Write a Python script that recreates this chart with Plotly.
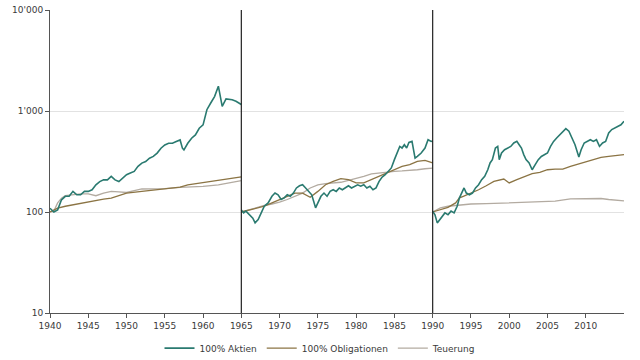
import plotly.graph_objects as go

# ---- Data (year, index value; each period rebased to 100) ----
# Period 1940-1965
p1_aktien_x = [1940.0, 1940.5, 1941.0, 1941.5, 1942.0, 1942.5, 1943.0, 1943.5, 1944.0, 1944.5,
               1945.0, 1945.5, 1946.0, 1946.5, 1947.0, 1947.5, 1948.0, 1948.5, 1949.0, 1949.5,
               1950.0, 1950.5, 1951.0, 1951.5, 1952.0, 1952.5, 1953.0, 1953.5, 1954.0, 1954.5,
               1955.0, 1955.5, 1956.0, 1956.5, 1957.0, 1957.3, 1957.5, 1958.0, 1958.5, 1959.0,
               1959.5, 1960.0, 1960.5, 1961.0, 1961.5, 1962.0, 1962.5, 1963.0, 1963.8, 1964.3, 1965.0]
p1_aktien_y = [109, 100, 105, 132, 143, 143, 160, 148, 148, 160,
               160, 166, 186, 200, 208, 208, 225, 208, 200, 216,
               234, 243, 252, 283, 305, 316, 341, 355, 383, 428,
               461, 479, 479, 498, 517, 428, 412, 479, 537, 580,
               675, 728, 1030, 1200, 1390, 1760, 1110, 1315, 1290, 1250, 1160]
p1_oblig_x = [1940, 1941, 1942, 1943, 1945, 1947, 1948, 1949.5, 1950, 1952, 1955, 1957, 1958, 1960, 1962, 1965]
p1_oblig_y = [100, 109, 114, 118, 127, 134, 137, 148, 154, 160, 169, 176, 186, 196, 208, 223]
p1_teu_x = [1940, 1940.5, 1941, 1941.5, 1942, 1943, 1944, 1945, 1946, 1947, 1948, 1949, 1950,
            1951, 1952, 1955, 1957, 1960, 1962, 1965]
p1_teu_y = [100, 102, 123, 137, 145, 148, 151, 151, 145, 154, 160, 158, 156,
            163, 169, 170, 175, 179, 186, 204]

# Period 1965-1990
p2_aktien_x = [1965.0, 1965.3, 1965.6, 1966.0, 1966.5, 1966.8, 1967.2, 1967.6, 1968.0, 1968.5,
               1969.0, 1969.4, 1969.8, 1970.2, 1970.6, 1971.0, 1971.4, 1971.8, 1972.2, 1972.6,
               1973.0, 1973.4, 1973.8, 1974.2, 1974.7, 1975.0, 1975.4, 1975.8, 1976.2, 1976.6,
               1977.0, 1977.4, 1977.8, 1978.2, 1978.6, 1979.0, 1979.4, 1979.8, 1980.2, 1980.6,
               1981.0, 1981.4, 1981.8, 1982.2, 1982.6, 1983.0, 1983.4, 1983.8, 1984.2, 1984.6,
               1985.0, 1985.4, 1985.7, 1986.0, 1986.3, 1986.6, 1986.9, 1987.3, 1987.7, 1988.0,
               1988.5, 1989.0, 1989.4, 1989.8, 1990.0]
p2_aktien_y = [105, 98, 102, 94, 87, 78, 84, 98, 114, 123,
               143, 154, 148, 133, 138, 148, 143, 154, 173, 182,
               186, 173, 160, 148, 110, 123, 143, 154, 143, 160,
               166, 160, 173, 166, 173, 182, 173, 180, 186, 180,
               186, 173, 180, 166, 173, 201, 222, 234, 253, 273,
               330, 384, 446, 430, 464, 430, 489, 500, 342, 355,
               384, 430, 520, 500, 505]
p2_oblig_x = [1965, 1966, 1967, 1968, 1969, 1970, 1971, 1972, 1973, 1974, 1975, 1976, 1977, 1978,
              1979, 1980, 1981, 1982, 1983, 1984, 1985, 1986, 1987, 1988, 1989, 1989.5, 1990]
p2_oblig_y = [100, 105, 110, 114, 123, 133, 143, 154, 154, 140, 160, 186, 201, 214,
              209, 194, 194, 209, 229, 243, 262, 283, 294, 317, 325, 317, 306]
p2_teu_x = [1965, 1966, 1967, 1968, 1969, 1970, 1971, 1972, 1973, 1974, 1975, 1976, 1977, 1978,
            1979, 1980, 1981, 1982, 1983, 1984, 1985, 1986, 1987, 1988, 1989, 1990]
p2_teu_y = [100, 105, 111, 116, 120, 125, 133, 143, 154, 173, 186, 191, 194, 197,
            206, 214, 225, 238, 243, 249, 253, 255, 257, 262, 268, 272]

# Period 1990-2015
p3_aktien_x = [1990.0, 1990.3, 1990.6, 1990.9, 1991.2, 1991.6, 1992.0, 1992.4, 1992.8, 1993.2,
               1993.5, 1993.8, 1994.1, 1994.4, 1994.8, 1995.2, 1995.6, 1996.0, 1996.4, 1996.8,
               1997.2, 1997.5, 1997.8, 1998.2, 1998.5, 1998.7, 1999.0, 1999.4, 1999.8, 2000.2,
               2000.6, 2001.0, 2001.3, 2001.6, 2001.9, 2002.2, 2002.6, 2003.0, 2003.4, 2003.8,
               2004.2, 2004.6, 2005.0, 2005.4, 2005.8, 2006.2, 2006.6, 2007.0, 2007.4, 2007.8,
               2008.2, 2008.6, 2009.1, 2009.4, 2009.8, 2010.2, 2010.6, 2011.0, 2011.4, 2011.8,
               2012.2, 2012.6, 2013.0, 2013.4, 2013.8, 2014.2, 2014.6, 2015.0]
p3_aktien_y = [102, 94, 78, 84, 91, 98, 94, 102, 98, 114,
               138, 154, 173, 154, 148, 154, 173, 186, 209, 226,
               262, 306, 330, 430, 446, 330, 384, 414, 430, 446,
               482, 500, 464, 430, 370, 330, 306, 262, 294, 330,
               355, 370, 384, 446, 500, 540, 583, 630, 670, 630,
               540, 464, 350, 414, 482, 500, 520, 500, 520, 446,
               482, 500, 606, 655, 677, 704, 731, 790]
p3_oblig_x = [1990, 1991, 1992, 1993, 1993.5, 1994, 1994.5, 1995, 1996, 1997, 1998, 1999.3, 2000,
              2001, 2002, 2003, 2004, 2005, 2006, 2007, 2008, 2009, 2010, 2011, 2012, 2013, 2014, 2015]
p3_oblig_y = [100, 105, 111, 123, 138, 143, 148, 154, 166, 182, 201, 212, 194,
              209, 226, 240, 247, 262, 266, 266, 283, 298, 317, 330, 347, 355, 361, 370]
p3_teu_x = [1990, 1991, 1992, 1993, 1994, 1995, 1997, 2000, 2003, 2006, 2008, 2009, 2010, 2012, 2013, 2015]
p3_teu_y = [100, 110, 114, 116, 117, 120, 121, 123, 125, 128, 135, 135, 136, 136, 133, 129]

y_tickvals = [10, 100, 1000, 10000]
y_ticktext = ["10", "100", "1'000", "10'000"]
x_tickvals = list(range(1940, 2015, 5))
period_breaks = [1965, 1990]

series_names = ["100% Aktien", "100% Obligationen", "Teuerung"]
series_colors = ["#2a7a70", "#8b7444", "#b3aba1"]


def join(*parts):
    xs, ys = [], []
    for i, (px, py) in enumerate(parts):
        if i:
            xs.append(None)
            ys.append(None)
        xs += list(px)
        ys += list(py)
    return xs, ys


series = [
    join((p1_aktien_x, p1_aktien_y), (p2_aktien_x, p2_aktien_y), (p3_aktien_x, p3_aktien_y)),
    join((p1_oblig_x, p1_oblig_y), (p2_oblig_x, p2_oblig_y), (p3_oblig_x, p3_oblig_y)),
    join((p1_teu_x, p1_teu_y), (p2_teu_x, p2_teu_y), (p3_teu_x, p3_teu_y)),
]

fig = go.Figure()
# draw in reverse so Aktien sits on top
for (xs, ys), name, col in reversed(list(zip(series, series_names, series_colors))):
    fig.add_trace(go.Scatter(x=xs, y=ys, mode="lines", name=name,
                             line=dict(color=col, width=1.6 if name == "100% Aktien" else 1.3),
                             connectgaps=False))

for b in period_breaks:
    fig.add_shape(type="line", xref="x", yref="paper", x0=b, x1=b, y0=0, y1=1,
                  line=dict(color="#222222", width=1.2))

font_family = "DejaVu Sans, Verdana, sans-serif"
fig.update_layout(
    width=640, height=360,
    margin=dict(l=50, r=16, t=10, b=47, autoexpand=False),
    paper_bgcolor="white", plot_bgcolor="white",
    font=dict(family=font_family, size=9, color="#3a3a3a"),
    showlegend=True,
    legend=dict(orientation="h", xref="container", yref="container",
                x=0.5, xanchor="center", y=0.033, yanchor="middle",
                traceorder="reversed", font=dict(size=9), itemwidth=30),
    xaxis=dict(range=[1940, 2015], tickvals=x_tickvals, ticktext=[str(v) for v in x_tickvals],
               showgrid=False, showline=True, linecolor="#555555", linewidth=1, automargin=False,
               ticks="outside", ticklen=4, tickcolor="#555555", zeroline=False),
    yaxis=dict(type="log", range=[1, 4], tickvals=y_tickvals, ticktext=y_ticktext,
               showgrid=True, gridcolor="#e2e2e2", gridwidth=1, automargin=False,
               showline=True, linecolor="#555555", linewidth=1,
               ticks="outside", ticklen=4, tickcolor="#555555", zeroline=False),
)

fig.write_html("out.html", config={"displayModeBar": False},
               post_script="document.body.style.margin='0';")
